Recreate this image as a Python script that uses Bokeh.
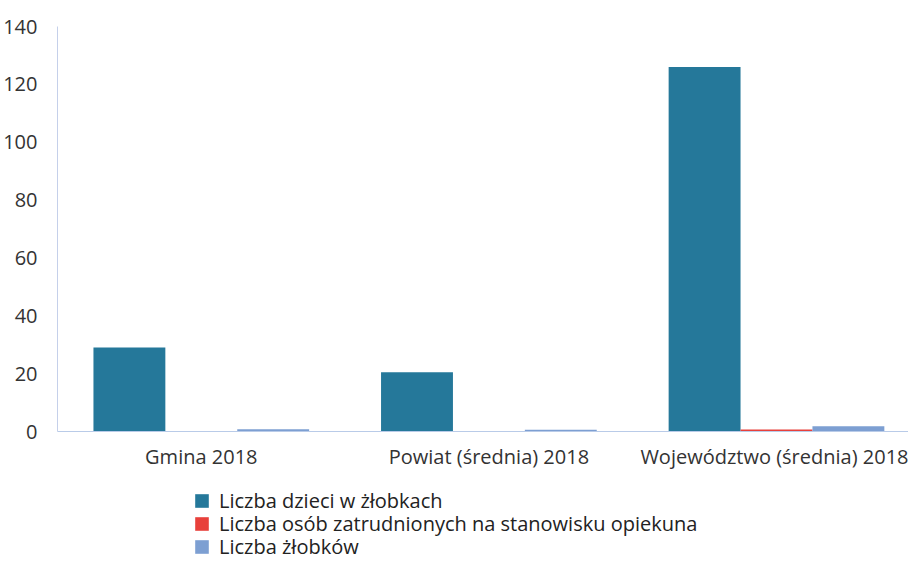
from bokeh.plotting import figure
from bokeh.layouts import column
from bokeh.models import Range1d, FixedTicker, Legend, LegendItem, ColumnDataSource
from bokeh.transform import dodge
from bokeh.embed import file_html
from bokeh.resources import INLINE

categories = ["Gmina 2018", "Powiat (średnia) 2018", "Województwo (średnia) 2018"]
series_names = ["Liczba dzieci w żłobkach",
                "Liczba osób zatrudnionych na stanowisku opiekuna",
                "Liczba żłobków"]
dzieci = [29, 20.5, 126]
opiekunowie = [0, 0, 0.7]
zlobki = [0.8, 0.6, 1.8]
y_ticks = [0, 20, 40, 60, 80, 100, 120, 140]

colors = ["#25789a", "#e8403b", "#7d9fd2"]
FONT = "Open Sans"

src = ColumnDataSource(dict(x=list(range(len(categories))), dzieci=dzieci,
                            opiekunowie=opiekunowie, zlobki=zlobki))


def add_bars(fig):
    r1 = fig.vbar(x=dodge("x", -0.25), top="dzieci", width=0.25, source=src,
                  fill_color=colors[0], line_color=None)
    r2 = fig.vbar(x=dodge("x", 0.0), top="opiekunowie", width=0.25, source=src,
                  fill_color=colors[1], line_color=None)
    r3 = fig.vbar(x=dodge("x", 0.25), top="zlobki", width=0.25, source=src,
                  fill_color=colors[2], line_color=None)
    return [r1, r2, r3]


p = figure(width=908, height=476, output_backend="svg", toolbar_location=None,
           x_range=Range1d(-0.5, 2.459), y_range=Range1d(0, 140))
p.min_border_left = 52
p.min_border_right = 0
p.min_border_top = 26
p.min_border_bottom = 45
p.outline_line_color = None
p.grid.visible = False
add_bars(p)

p.yaxis.ticker = FixedTicker(ticks=y_ticks)
p.yaxis.major_tick_line_color = None
p.yaxis.minor_tick_line_color = None
p.yaxis.axis_line_color = "#c5d0ea"
p.yaxis.major_label_standoff = 14
p.yaxis.major_label_text_font = FONT
p.yaxis.major_label_text_font_size = "20px"
p.yaxis.major_label_text_color = "#333333"

p.xaxis.ticker = FixedTicker(ticks=list(range(len(categories))))
p.xaxis.major_label_overrides = {i: c for i, c in enumerate(categories)}
p.xaxis.major_tick_line_color = None
p.xaxis.minor_tick_line_color = None
p.xaxis.axis_line_color = "#b9cbe8"
p.xaxis.major_label_standoff = 5
p.xaxis.major_label_text_font = FONT
p.xaxis.major_label_text_font_size = "20px"
p.xaxis.major_label_text_color = "#333333"

# legend panel: same bars, far out of view, only their legend entries are shown
q = figure(width=908, height=84, output_backend="svg", toolbar_location=None,
           x_range=Range1d(-1000, -999), y_range=Range1d(-1000, -999),
           x_axis_location=None, y_axis_location=None)
q.min_border = 0
q.outline_line_color = None
q.grid.visible = False
lr = add_bars(q)
for i, yloc in enumerate([46, 23, 0]):
    leg = Legend(items=[LegendItem(label=series_names[i], renderers=[lr[i]])],
                 location=(136, yloc), orientation="vertical",
                 label_text_font=FONT, label_text_font_size="20px",
                 label_text_color="#222222", glyph_width=17, glyph_height=17,
                 spacing=0, padding=0, margin=0, label_standoff=9,
                 label_height=17, border_line_color=None, background_fill_alpha=0)
    q.add_layout(leg)

open("out.html", "w").write(file_html(column(p, q, spacing=0), INLINE))
